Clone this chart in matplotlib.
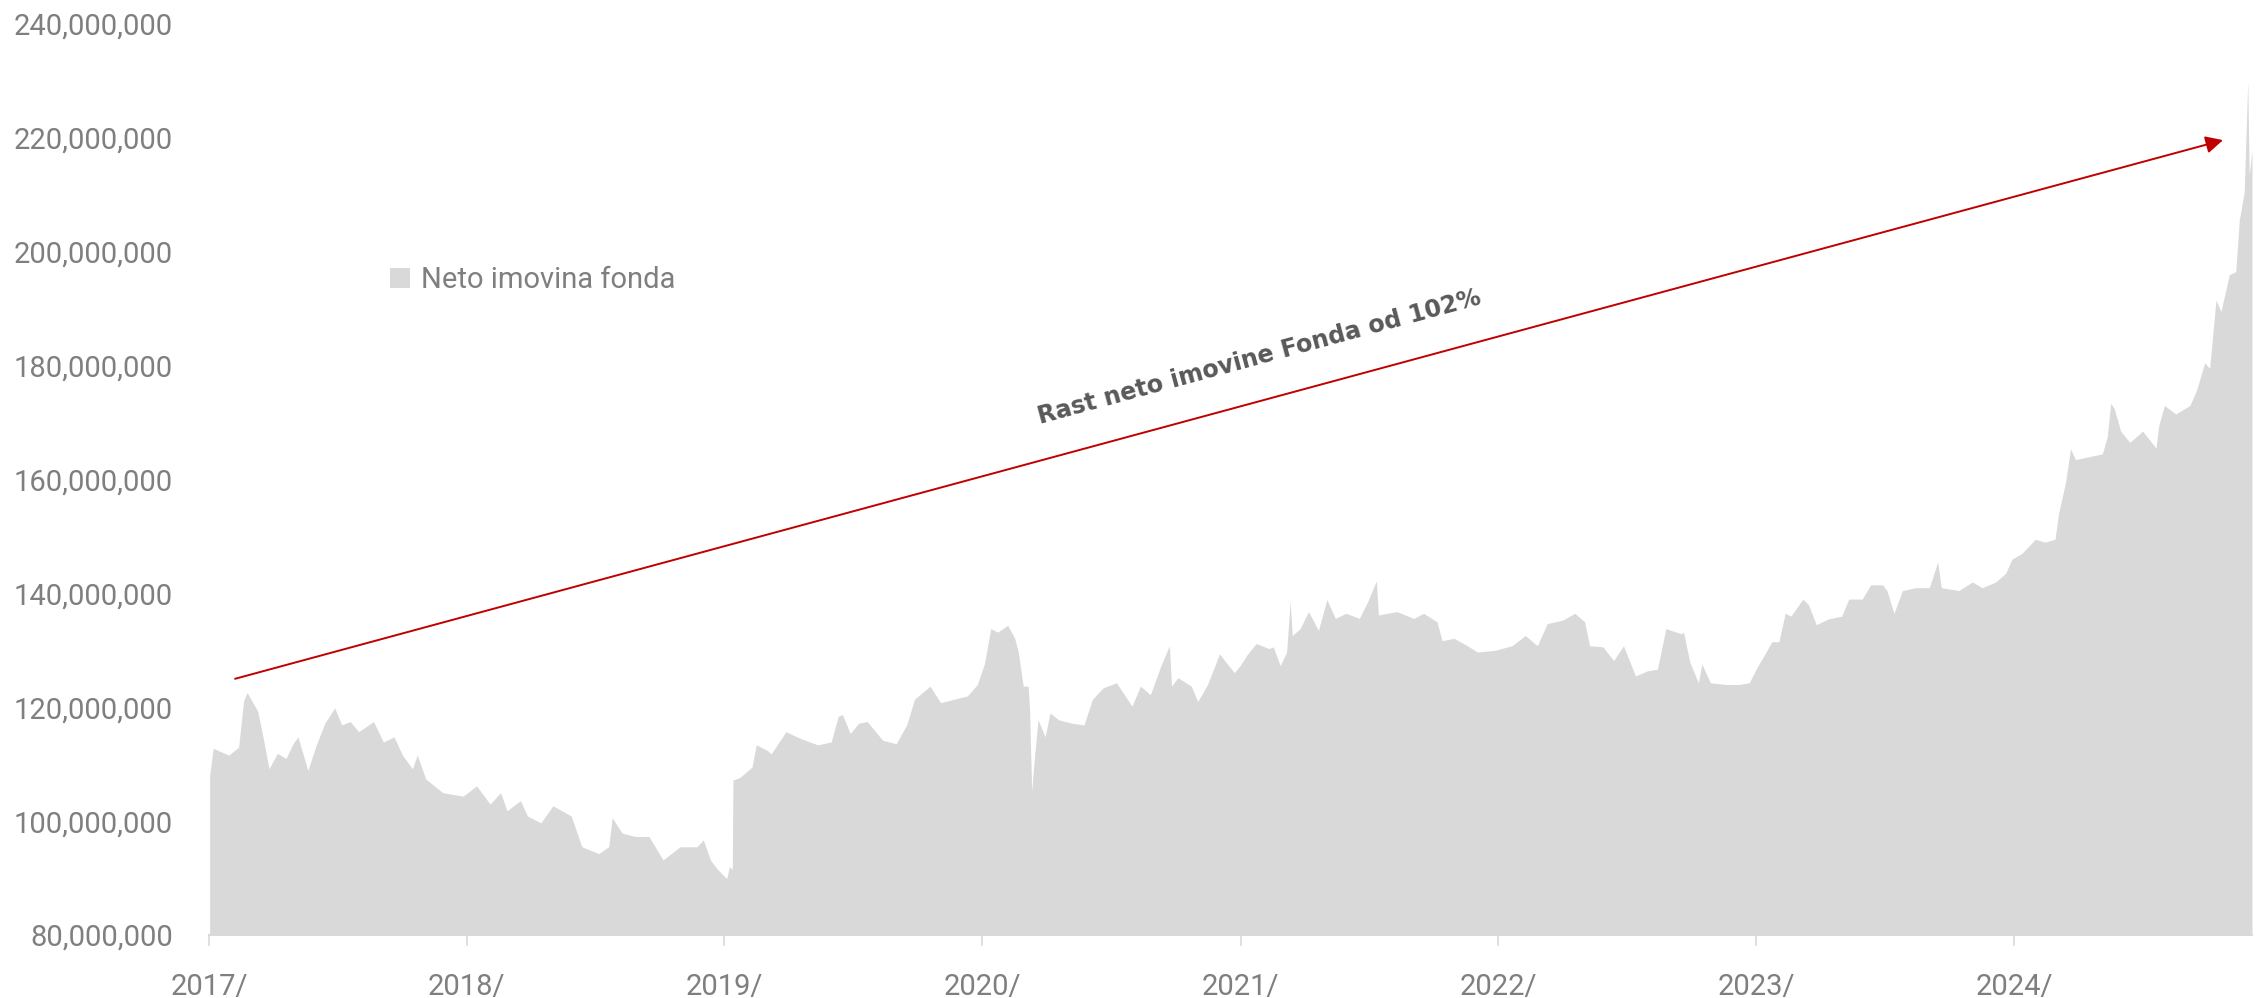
import matplotlib
matplotlib.use('Agg')
import matplotlib.pyplot as plt
import matplotlib.dates as mdates
from matplotlib.ticker import FuncFormatter
import numpy as np
import pandas as pd

# neto imovina fonda, u milijunima
datumi = [
    '2017-01-02', '2017-01-07', '2017-01-29', '2017-02-12', '2017-02-19', '2017-02-24',
    '2017-03-11', '2017-03-18', '2017-03-27', '2017-04-08', '2017-04-20', '2017-04-30',
    '2017-05-07', '2017-05-21', '2017-06-02', '2017-06-14', '2017-06-28', '2017-07-08',
    '2017-07-20', '2017-08-01', '2017-08-22', '2017-09-05', '2017-09-20', '2017-10-02',
    '2017-10-16', '2017-10-23', '2017-11-04', '2017-11-28', '2017-12-27', '2018-01-15',
    '2018-02-03', '2018-02-18', '2018-02-27', '2018-03-18', '2018-03-28', '2018-04-16',
    '2018-05-03', '2018-05-29', '2018-06-13', '2018-07-07', '2018-07-21', '2018-07-26',
    '2018-08-09', '2018-08-28', '2018-09-16', '2018-10-06', '2018-10-30', '2018-11-23',
    '2018-12-02', '2018-12-12', '2018-12-21', '2019-01-04', '2019-01-08', '2019-01-12',
    '2019-01-13', '2019-01-23', '2019-02-09', '2019-02-15', '2019-03-03', '2019-03-08',
    '2019-03-29', '2019-04-19', '2019-05-13', '2019-06-01', '2019-06-11', '2019-06-17',
    '2019-06-28', '2019-07-10', '2019-07-22', '2019-08-13', '2019-09-01', '2019-09-16',
    '2019-09-27', '2019-10-19', '2019-11-03', '2019-11-22', '2019-12-11', '2019-12-25',
    '2020-01-04', '2020-01-13', '2020-01-23', '2020-02-06', '2020-02-16', '2020-02-21',
    '2020-02-28', '2020-03-06', '2020-03-08', '2020-03-11', '2020-03-15', '2020-03-20',
    '2020-03-30', '2020-04-06', '2020-04-18', '2020-05-07', '2020-05-24', '2020-06-05',
    '2020-06-20', '2020-07-09', '2020-07-31', '2020-08-12', '2020-08-26', '2020-09-10',
    '2020-09-22', '2020-09-25', '2020-10-04', '2020-10-23', '2020-11-01', '2020-11-15',
    '2020-12-02', '2020-12-11', '2020-12-23', '2020-12-31', '2021-01-11', '2021-01-23',
    '2021-02-10', '2021-02-16', '2021-02-26', '2021-03-07', '2021-03-12', '2021-03-15',
    '2021-03-26', '2021-04-07', '2021-04-21', '2021-05-03', '2021-05-15', '2021-05-30',
    '2021-06-18', '2021-06-30', '2021-07-12', '2021-07-15', '2021-08-10', '2021-09-03',
    '2021-09-17', '2021-10-06', '2021-10-13', '2021-10-30', '2021-11-18', '2021-12-02',
    '2021-12-27', '2022-01-20', '2022-02-08', '2022-02-25', '2022-03-11', '2022-04-02',
    '2022-04-19', '2022-05-03', '2022-05-10', '2022-05-29', '2022-06-13', '2022-06-27',
    '2022-07-14', '2022-07-31', '2022-08-14', '2022-08-26', '2022-09-17', '2022-09-20',
    '2022-09-29', '2022-10-11', '2022-10-16', '2022-10-28', '2022-11-19', '2022-12-08',
    '2022-12-22', '2023-01-03', '2023-01-14', '2023-01-23', '2023-02-02', '2023-02-11',
    '2023-02-19', '2023-03-08', '2023-03-16', '2023-03-27', '2023-04-13', '2023-05-02',
    '2023-05-12', '2023-05-31', '2023-06-12', '2023-06-29', '2023-07-05', '2023-07-15',
    '2023-07-27', '2023-08-15', '2023-09-03', '2023-09-15', '2023-09-20', '2023-10-15',
    '2023-11-03', '2023-11-17', '2023-12-06', '2023-12-20', '2023-12-29', '2024-01-12',
    '2024-01-31', '2024-02-14', '2024-02-28', '2024-03-04', '2024-03-14', '2024-03-21',
    '2024-03-28', '2024-04-16', '2024-05-05', '2024-05-12', '2024-05-17', '2024-05-22',
    '2024-05-31', '2024-06-13', '2024-07-01', '2024-07-20', '2024-07-24', '2024-08-01',
    '2024-08-17', '2024-09-06', '2024-09-15', '2024-09-27', '2024-10-04', '2024-10-13',
    '2024-10-20', '2024-11-01', '2024-11-10', '2024-11-15', '2024-11-22', '2024-11-27',
    '2024-11-29', '2024-12-03',
]
imovina_mil = [
    108.0, 112.8, 111.6, 113.0, 121.1, 122.6,
    119.3, 115.1, 109.2, 111.9, 111.0, 113.6,
    114.8, 108.9, 113.4, 117.2, 119.9, 116.9,
    117.5, 115.7, 117.5, 113.9, 114.8, 111.6,
    109.2, 111.6, 107.4, 105.0, 104.4, 106.2,
    103.0, 105.0, 101.8, 103.6, 100.9, 99.7,
    102.7, 100.9, 95.5, 94.3, 95.5, 100.6,
    97.9, 97.3, 97.3, 93.2, 95.5, 95.5,
    96.7, 93.2, 91.7, 89.9, 92.0, 91.5,
    107.2, 107.7, 109.5, 113.4, 112.4, 111.8,
    115.7, 114.5, 113.4, 113.9, 118.4, 118.7,
    115.4, 117.2, 117.5, 114.2, 113.6, 116.9,
    121.4, 123.7, 120.8, 121.4, 122.0, 124.0,
    127.6, 133.8, 133.2, 134.4, 132.1, 129.7,
    123.7, 123.7, 119.6, 105.3, 111.3, 117.8,
    114.8, 119.0, 117.8, 117.2, 116.9, 121.4,
    123.4, 124.3, 120.2, 123.7, 122.2, 127.3,
    130.8, 123.7, 125.2, 123.7, 121.0, 124.0,
    129.4, 127.9, 126.1, 127.3, 129.4, 131.2,
    130.3, 130.6, 127.3, 129.7, 138.6, 132.6,
    133.8, 136.8, 133.5, 138.9, 135.6, 136.5,
    135.6, 138.6, 142.2, 136.2, 136.8, 135.6,
    136.5, 135.0, 131.7, 132.1, 130.8, 129.7,
    130.0, 130.8, 132.6, 130.8, 134.7, 135.3,
    136.5, 135.0, 130.8, 130.6, 128.2, 130.8,
    125.5, 126.4, 126.7, 133.8, 132.9, 133.2,
    127.9, 124.3, 127.6, 124.3, 124.0, 124.0,
    124.3, 127.2, 129.5, 131.5, 131.5, 136.5,
    136.0, 139.0, 138.0, 134.5, 135.5, 136.0,
    139.0, 139.0, 141.5, 141.5, 140.5, 136.5,
    140.5, 141.0, 141.0, 145.5, 141.0, 140.5,
    142.0, 141.0, 142.0, 143.5, 146.0, 147.0,
    149.5, 149.0, 149.5, 154.0, 159.5, 165.4,
    163.5, 164.0, 164.5, 167.5, 173.4, 172.4,
    168.5, 166.5, 168.5, 165.5, 169.5, 173.0,
    171.5, 173.0, 175.5, 180.5, 179.5, 191.5,
    189.5, 196.0, 196.5, 205.5, 210.5, 230.0,
    213.4, 217.9,
]

strelica_od = ('2017-02-07', 125.0)
strelica_do = ('2024-10-23', 219.6)
natpis = 'Rast neto imovine Fonda od 102%'
natpis_pozicija = ('2021-01-27', 181.5)

x = pd.to_datetime(datumi)
y = np.array(imovina_mil) * 1e6

siva = '#7f7f7f'
plt.rcParams['font.family'] = ['Roboto', 'DejaVu Sans']

fig = plt.figure(figsize=(22.59, 9.98), dpi=100)
ax = fig.add_axes([0.0925, 0.0631, 0.9044, 0.9129])

ax.fill_between(x, 80e6, y, color='#d9d9d9', linewidth=0, label='Neto imovina fonda')

ax.set_ylim(80e6, 240e6)
ax.set_xlim(pd.Timestamp('2017-01-01'), x[-1])
ax.set_yticks(np.arange(80e6, 240e6 + 1, 20e6))
ax.yaxis.set_major_formatter(FuncFormatter(lambda v, p: f'{v:,.0f}'))
ax.xaxis.set_major_locator(mdates.YearLocator())
ax.xaxis.set_major_formatter(mdates.DateFormatter('%Y/'))

for s in ['top', 'right', 'left']:
    ax.spines[s].set_visible(False)
ax.spines['bottom'].set_color('#d9d9d9')
ax.spines['bottom'].set_linewidth(1.5)
ax.tick_params(axis='y', length=0, pad=26, labelsize=21, labelcolor=siva)
ax.tick_params(axis='x', length=8, width=1.2, color='#d9d9d9', pad=19, labelsize=21, labelcolor=siva)

ax.annotate('', xy=(pd.Timestamp(strelica_do[0]), strelica_do[1] * 1e6),
            xytext=(pd.Timestamp(strelica_od[0]), strelica_od[1] * 1e6),
            arrowprops=dict(arrowstyle='-|>', color='#c00000', lw=1.4, mutation_scale=26,
                            shrinkA=0, shrinkB=0))
ax.text(pd.Timestamp(natpis_pozicija[0]), natpis_pozicija[1] * 1e6, natpis,
        rotation=15.2, rotation_mode='anchor', ha='center', va='center',
        fontsize=17.2, fontweight='bold', color='#595959', family='DejaVu Sans')

leg = ax.legend(loc='center left', bbox_to_anchor=(0.1726, 0.7194), bbox_transform=fig.transFigure,
                frameon=False, fontsize=21, handlelength=0.68, handleheight=0.68,
                handletextpad=0.37, borderpad=0, borderaxespad=0)
for t in leg.get_texts():
    t.set_color(siva)

fig.savefig('out.png', dpi=100)
